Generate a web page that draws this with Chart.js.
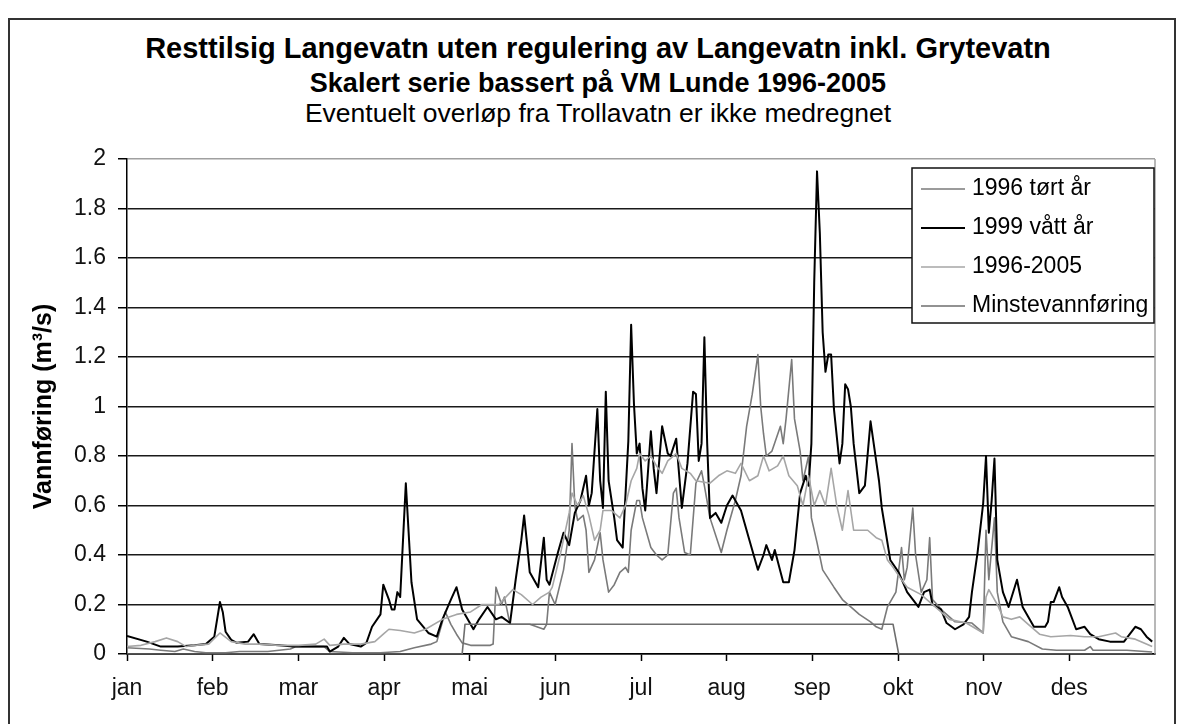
<!DOCTYPE html>
<html>
<head>
<meta charset="utf-8">
<script src="https://cdn.jsdelivr.net/npm/chart.js@4.4.0/dist/chart.umd.min.js"></script>
<style>
  body { margin: 0; background: #fff; }
  #wrap { position: relative; width: 1185px; height: 724px; overflow: hidden; }
  #box { position: absolute; left: 8px; top: 18px; width: 1168px; height: 720px; border: 2px solid #333; box-sizing: border-box; }
  .t { position: absolute; left: 0; width: 1196px; text-align: center; font-family: "Liberation Sans", Arial, sans-serif; line-height: 1; color: #000; white-space: nowrap; }
  #t1 { top: 34px; font-size: 29px; font-weight: bold; }
  #t2 { top: 70px; font-size: 27px; font-weight: bold; }
  #t3 { top: 100px; font-size: 26.5px; }
  canvas { position: absolute; left: 0; top: 0; }
</style>
</head>
<body>
<div id="wrap">
  <div id="box"></div>
  <div class="t" id="t1">Resttilsig Langevatn uten regulering av Langevatn inkl. Grytevatn</div>
  <div class="t" id="t2">Skalert serie bassert på VM Lunde 1996-2005</div>
  <div class="t" id="t3">Eventuelt overløp fra Trollavatn er ikke medregnet</div>
  <canvas id="chart" width="1185" height="724"></canvas>
</div>
<script>
// månedsnavn langs x-aksen (dag 0-365)
const months = ["jan", "feb", "mar", "apr", "mai", "jun", "jul", "aug", "sep", "okt", "nov", "des"];
const seriesNames = ["1996 tørt år", "1999 vått år", "1996-2005", "Minstevannføring"];

// 1996 tørt år (dag i året, m3/s)
const dryDays = [0, 8, 12, 17, 20, 24, 28, 35, 40, 50, 58, 60, 70, 72, 80, 90, 97, 102, 108, 110, 113, 115, 117, 119, 122, 129, 130, 131, 133, 134, 136, 140, 143, 148, 149, 150, 152, 155, 157, 158, 159, 160, 162, 163, 164, 166, 168, 169, 171, 173, 175, 177, 178, 179, 181, 182, 183, 186, 188, 190, 192, 194, 195, 196, 198, 200, 202, 204, 205, 207, 211, 213, 216, 218, 220, 222, 224, 225, 226, 227, 229, 232, 233, 234, 236, 237, 239, 240, 242, 243, 245, 247, 251, 254, 258, 260, 264, 266, 268, 270, 273, 275, 276, 277, 279, 280, 282, 284, 285, 286, 290, 294, 300, 304, 305, 306, 308, 309, 311, 314, 320, 325, 330, 340, 342, 343, 355, 364];
const dryVals = [0.025, 0.02, 0.015, 0.01, 0.02, 0.01, 0.005, 0.005, 0.01, 0.01, 0.02, 0.03, 0.03, 0.01, 0.005, 0.005, 0.01, 0.025, 0.04, 0.05, 0.17, 0.12, 0.08, 0.045, 0.035, 0.035, 0.04, 0.27, 0.2, 0.23, 0.12, 0.12, 0.12, 0.1, 0.12, 0.25, 0.2, 0.34, 0.5, 0.85, 0.6, 0.54, 0.56, 0.5, 0.33, 0.38, 0.49, 0.38, 0.25, 0.28, 0.33, 0.35, 0.33, 0.5, 0.62, 0.62, 0.55, 0.43, 0.4, 0.38, 0.4, 0.65, 0.67, 0.55, 0.41, 0.4, 0.69, 0.74, 0.68, 0.55, 0.41, 0.5, 0.62, 0.72, 0.92, 1.05, 1.21, 1.0, 0.89, 0.8, 0.82, 0.92, 0.85, 0.95, 1.19, 0.95, 0.82, 0.7, 0.8, 0.55, 0.45, 0.34, 0.27, 0.22, 0.18, 0.16, 0.13, 0.11, 0.1, 0.19, 0.25, 0.43, 0.3, 0.35, 0.59, 0.4, 0.25, 0.3, 0.47, 0.22, 0.17, 0.13, 0.125, 0.085, 0.5, 0.3, 0.55, 0.25, 0.13, 0.07, 0.05, 0.02, 0.015, 0.015, 0.03, 0.015, 0.015, 0.008];

// 1999 vått år
const wetDays = [0, 7, 12, 18, 24, 28, 31, 33, 34, 35, 37, 39, 43, 45, 47, 54, 59, 65, 71, 72, 75, 77, 79, 83, 85, 87, 90, 91, 93, 94, 95, 96, 97, 98, 99, 100, 101, 103, 107, 110, 112, 115, 117, 119, 123, 125, 128, 131, 133, 136, 138, 140, 141, 142, 143, 146, 148, 149, 150, 153, 155, 157, 159, 161, 163, 164, 165, 167, 168, 169, 170, 171, 173, 174, 176, 178, 179, 180, 181, 182, 183, 184, 186, 187, 188, 190, 192, 193, 195, 197, 199, 201, 202, 203, 204, 205, 206, 207, 209, 211, 213, 215, 218, 221, 224, 226, 227, 229, 230, 233, 235, 237, 239, 241, 242, 243, 244, 245, 246, 247, 248, 249, 250, 251, 253, 254, 255, 256, 257, 258, 260, 262, 264, 266, 267, 268, 271, 274, 277, 281, 283, 285, 286, 289, 291, 294, 297, 299, 300, 302, 304, 305, 306, 307, 308, 309, 311, 313, 316, 318, 322, 326, 327, 328, 329, 331, 332, 334, 337, 340, 342, 345, 349, 354, 358, 360, 362, 364];
const wetVals = [0.073, 0.05, 0.03, 0.03, 0.035, 0.04, 0.07, 0.21, 0.17, 0.09, 0.057, 0.045, 0.05, 0.08, 0.04, 0.035, 0.03, 0.03, 0.03, 0.01, 0.03, 0.065, 0.04, 0.03, 0.045, 0.11, 0.16, 0.28, 0.22, 0.18, 0.18, 0.25, 0.23, 0.46, 0.69, 0.49, 0.29, 0.14, 0.085, 0.07, 0.14, 0.22, 0.27, 0.18, 0.1, 0.14, 0.19, 0.14, 0.15, 0.125, 0.3, 0.46, 0.56, 0.45, 0.33, 0.27, 0.47, 0.3, 0.28, 0.41, 0.49, 0.44, 0.57, 0.62, 0.72, 0.6, 0.65, 0.99, 0.7, 0.59, 1.06, 0.7, 0.55, 0.46, 0.43, 0.86, 1.33, 1.01, 0.81, 0.85, 0.67, 0.58, 0.9, 0.75, 0.65, 0.92, 0.81, 0.8, 0.87, 0.59, 0.77, 1.06, 1.05, 0.78, 0.85, 1.28, 0.85, 0.55, 0.57, 0.53, 0.6, 0.64, 0.58, 0.46, 0.34, 0.4, 0.44, 0.38, 0.42, 0.29, 0.29, 0.42, 0.65, 0.72, 0.68, 0.85, 1.5, 1.95, 1.7, 1.3, 1.14, 1.21, 1.21, 0.99, 0.77, 0.85, 1.09, 1.07, 1.0, 0.85, 0.65, 0.68, 0.94, 0.78, 0.7, 0.59, 0.38, 0.33, 0.25, 0.19, 0.25, 0.26, 0.2, 0.18, 0.125, 0.1, 0.12, 0.15, 0.25, 0.41, 0.61, 0.8, 0.49, 0.62, 0.79, 0.38, 0.25, 0.19, 0.3, 0.19, 0.11, 0.11, 0.13, 0.21, 0.21, 0.27, 0.23, 0.19, 0.1, 0.11, 0.08, 0.06, 0.05, 0.05, 0.11, 0.1, 0.07, 0.05];

// 1996-2005 middel
const avgDays = [0, 5, 10, 14, 18, 21, 24, 29, 33, 37, 42, 47, 54, 61, 67, 70, 72, 77, 83, 88, 91, 93, 97, 102, 106, 112, 117, 122, 126, 132, 137, 140, 144, 147, 150, 151, 154, 157, 158, 160, 162, 164, 166, 168, 169, 172, 175, 177, 179, 181, 182, 184, 186, 188, 190, 192, 195, 197, 200, 202, 207, 210, 213, 216, 218, 221, 224, 226, 228, 231, 233, 235, 238, 240, 242, 244, 246, 248, 250, 252, 254, 256, 258, 263, 266, 268, 270, 272, 275, 277, 282, 284, 288, 292, 298, 304, 305, 306, 309, 311, 314, 317, 320, 324, 328, 335, 340, 345, 351, 353, 358, 364];
const avgVals = [0.03, 0.035, 0.05, 0.065, 0.05, 0.03, 0.035, 0.04, 0.085, 0.05, 0.04, 0.04, 0.035, 0.035, 0.04, 0.06, 0.035, 0.04, 0.04, 0.05, 0.08, 0.1, 0.095, 0.085, 0.1, 0.14, 0.16, 0.17, 0.2, 0.2, 0.26, 0.24, 0.2, 0.23, 0.25, 0.27, 0.41, 0.57, 0.65, 0.6, 0.64, 0.56, 0.46, 0.5, 0.58, 0.58, 0.55, 0.6, 0.7, 0.75, 0.81, 0.78, 0.8, 0.76, 0.73, 0.78, 0.81, 0.75, 0.73, 0.7, 0.69, 0.72, 0.74, 0.73, 0.77, 0.7, 0.72, 0.8, 0.74, 0.76, 0.8, 0.72, 0.68, 0.6, 0.72, 0.6, 0.66, 0.6, 0.75, 0.6, 0.5, 0.66, 0.5, 0.5, 0.47, 0.46, 0.38, 0.35, 0.3, 0.27, 0.24, 0.22, 0.18, 0.14, 0.125, 0.085, 0.23, 0.26, 0.2, 0.15, 0.14, 0.15, 0.12, 0.08, 0.07, 0.075, 0.07, 0.07, 0.085, 0.07, 0.06, 0.03];

// minstevannføring 1. mai - 30. sep
const minDays = [0, 119, 120, 272, 274, 364];
const minVals = [0, 0, 0.12, 0.12, 0, 0];

const yTicks = [0, 0.2, 0.4, 0.6, 0.8, 1, 1.2, 1.4, 1.6, 1.8, 2];
const monthTicks = months.map((m, i) => i * 365 / 12);

const pts = (d, v) => d.map((x, i) => ({ x: x, y: v[i] }));

const FONT = "'Liberation Sans', Arial, sans-serif";

// plot-ramme og legende (Excel-stil)
const excelBits = {
    id: "excelBits",
    beforeDatasetsDraw(chart) {
        const { ctx, chartArea: a } = chart;
        ctx.save();
        ctx.strokeStyle = "#a0a0a0";
        ctx.lineWidth = 1.5;
        ctx.beginPath();
        ctx.moveTo(a.right, a.top);
        ctx.lineTo(a.right, a.bottom);
        ctx.stroke();
        ctx.restore();
    },
    afterDatasetsDraw(chart) {
        const { ctx } = chart;
        const ds = chart.data.datasets;
        ctx.save();
        ctx.fillStyle = "#fff";
        ctx.fillRect(912, 168, 242, 155);
        ctx.strokeStyle = "#111";
        ctx.lineWidth = 1.5;
        ctx.strokeRect(912, 168, 242, 155);
        ctx.font = "23px " + FONT;
        ctx.textBaseline = "middle";
        ctx.textAlign = "left";
        ds.forEach((d, i) => {
            const y = 189 + i * 39;
            ctx.strokeStyle = d.borderColor;
            ctx.lineWidth = d.borderWidth;
            ctx.beginPath();
            ctx.moveTo(921, y);
            ctx.lineTo(965, y);
            ctx.stroke();
            ctx.fillStyle = "#000";
            ctx.fillText(d.label, 972, y);
        });
        ctx.restore();
    }
};

new Chart(document.getElementById("chart"), {
    type: "line",
    data: {
        datasets: [
            { label: seriesNames[0], data: pts(dryDays, dryVals), borderColor: "#7a7a7a", borderWidth: 1.6, order: 3 },
            { label: seriesNames[1], data: pts(wetDays, wetVals), borderColor: "#000000", borderWidth: 2, order: 2 },
            { label: seriesNames[2], data: pts(avgDays, avgVals), borderColor: "#a6a6a6", borderWidth: 1.6, order: 1 },
            { label: seriesNames[3], data: pts(minDays, minVals), borderColor: "#6e6e6e", borderWidth: 1.6, order: 0 }
        ]
    },
    options: {
        responsive: false,
        animation: false,
        events: [],
        layout: { padding: { top: 159, right: 30, left: 0, bottom: 0 } },
        elements: {
            point: { radius: 0 },
            line: { tension: 0, borderJoinStyle: "round", fill: false }
        },
        plugins: {
            legend: { display: false },
            tooltip: { enabled: false }
        },
        scales: {
            x: {
                type: "linear",
                min: 0,
                max: 365,
                afterBuildTicks: (s) => { s.ticks = monthTicks.map(v => ({ value: v })); },
                afterFit: (s) => { s.height = 70; },
                ticks: {
                    autoSkip: false,
                    maxRotation: 0,
                    padding: 14,
                    color: "#111",
                    font: { family: FONT, size: 23 },
                    callback: (v, i) => months[i]
                },
                grid: { drawOnChartArea: false, drawTicks: true, tickLength: 7, tickColor: "#000", tickWidth: 1.5 },
                border: { color: "#000", width: 1.5 }
            },
            y: {
                min: 0,
                max: 2,
                afterBuildTicks: (s) => { s.ticks = yTicks.map(v => ({ value: v })); },
                afterFit: (s) => { s.width = 127; },
                ticks: {
                    padding: 12,
                    color: "#111",
                    font: { family: FONT, size: 23 },
                    callback: (v) => String(Math.round(v * 10) / 10)
                },
                grid: {
                    color: (c) => (c.tick && c.tick.value === 2 ? "#a0a0a0" : "#1a1a1a"),
                    lineWidth: 1.5,
                    tickLength: 9,
                    tickColor: "#000"
                },
                border: { color: "#000", width: 1.5 },
                title: {
                    display: true,
                    text: "Vannføring (m³/s)",
                    color: "#000",
                    font: { family: FONT, size: 25, weight: "bold" },
                    padding: { top: 29, bottom: 0 }
                }
            }
        }
    },
    plugins: [excelBits]
});
</script>
</body>
</html>
